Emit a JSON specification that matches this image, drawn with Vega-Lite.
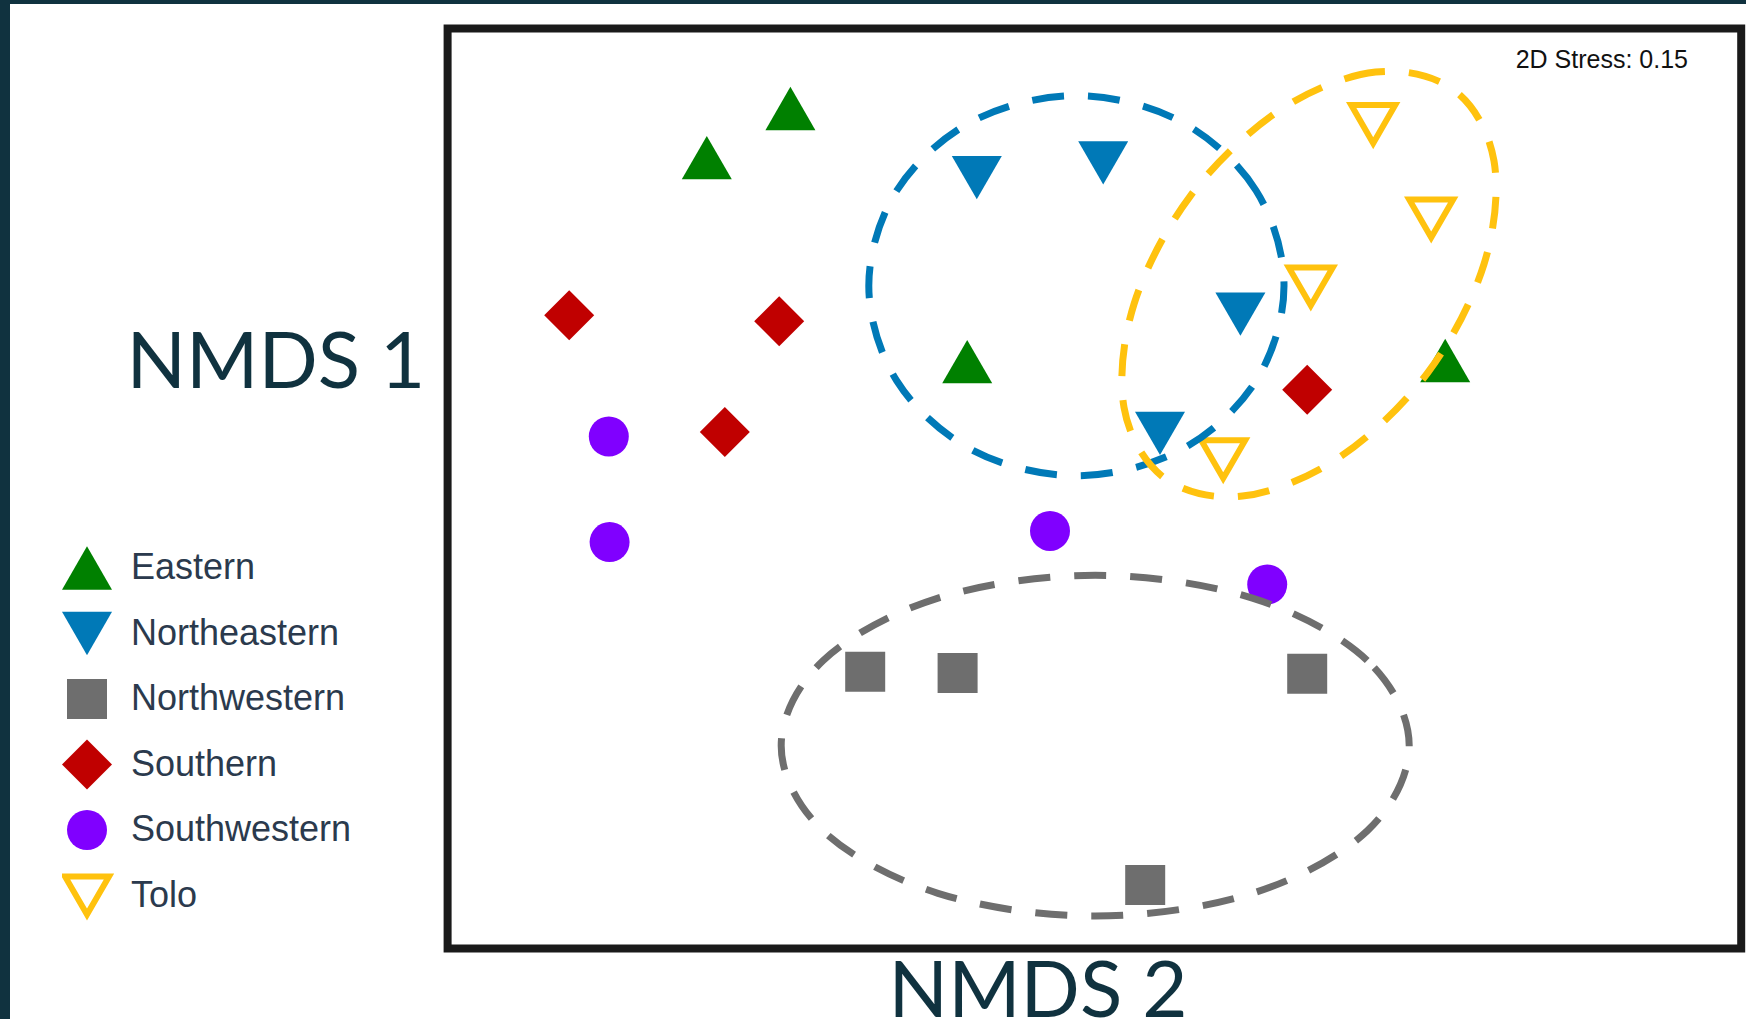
{
  "$schema": "https://vega.github.io/schema/vega-lite/v6.json",
  "width": 1736,
  "height": 1015,
  "autosize": {"type": "none"},
  "padding": {"left": 10, "top": 4, "right": 0, "bottom": 0},
  "background": "#10323f",
  "view": {"fill": "white", "stroke": null},
  "datasets": {
    "sites": [
      {"region": "Eastern", "nmds2": -0.760, "nmds1": 0.950},
      {"region": "Eastern", "nmds2": -0.969, "nmds1": 0.827},
      {"region": "Eastern", "nmds2": -0.318, "nmds1": 0.317},
      {"region": "Eastern", "nmds2": 0.877, "nmds1": 0.320},
      {"region": "Northeastern", "nmds2": -0.294, "nmds1": 0.777},
      {"region": "Northeastern", "nmds2": 0.022, "nmds1": 0.814},
      {"region": "Northeastern", "nmds2": 0.365, "nmds1": 0.436},
      {"region": "Northeastern", "nmds2": 0.164, "nmds1": 0.138},
      {"region": "Northwestern", "nmds2": -0.573, "nmds1": -0.458},
      {"region": "Northwestern", "nmds2": -0.342, "nmds1": -0.461},
      {"region": "Northwestern", "nmds2": 0.532, "nmds1": -0.463},
      {"region": "Northwestern", "nmds2": 0.127, "nmds1": -0.991},
      {"region": "Southern", "nmds2": -1.313, "nmds1": 0.433},
      {"region": "Southern", "nmds2": -0.788, "nmds1": 0.418},
      {"region": "Southern", "nmds2": -0.924, "nmds1": 0.141},
      {"region": "Southern", "nmds2": 0.532, "nmds1": 0.247},
      {"region": "Southwestern", "nmds2": -1.214, "nmds1": 0.130},
      {"region": "Southwestern", "nmds2": -1.212, "nmds1": -0.134},
      {"region": "Southwestern", "nmds2": -0.111, "nmds1": -0.106},
      {"region": "Southwestern", "nmds2": 0.432, "nmds1": -0.240},
      {"region": "Tolo", "nmds2": 0.697, "nmds1": 0.911},
      {"region": "Tolo", "nmds2": 0.842, "nmds1": 0.675},
      {"region": "Tolo", "nmds2": 0.541, "nmds1": 0.505},
      {"region": "Tolo", "nmds2": 0.322, "nmds1": 0.073}
    ],
    "ellipses": [
      {"region": "Northeastern", "i": 0, "nmds2": 0.474, "nmds1": 0.507},
      {"region": "Northeastern", "i": 1, "nmds2": 0.404, "nmds1": 0.745},
      {"region": "Northeastern", "i": 2, "nmds2": 0.215, "nmds1": 0.918},
      {"region": "Northeastern", "i": 3, "nmds2": -0.045, "nmds1": 0.982},
      {"region": "Northeastern", "i": 4, "nmds2": -0.305, "nmds1": 0.918},
      {"region": "Northeastern", "i": 5, "nmds2": -0.494, "nmds1": 0.745},
      {"region": "Northeastern", "i": 6, "nmds2": -0.564, "nmds1": 0.507},
      {"region": "Northeastern", "i": 7, "nmds2": -0.494, "nmds1": 0.269},
      {"region": "Northeastern", "i": 8, "nmds2": -0.305, "nmds1": 0.096},
      {"region": "Northeastern", "i": 9, "nmds2": -0.045, "nmds1": 0.032},
      {"region": "Northeastern", "i": 10, "nmds2": 0.215, "nmds1": 0.096},
      {"region": "Northeastern", "i": 11, "nmds2": 0.404, "nmds1": 0.269},
      {"region": "Northwestern", "i": 0, "nmds2": 0.787, "nmds1": -0.643},
      {"region": "Northwestern", "i": 1, "nmds2": 0.682, "nmds1": -0.430},
      {"region": "Northwestern", "i": 2, "nmds2": 0.395, "nmds1": -0.274},
      {"region": "Northwestern", "i": 3, "nmds2": 0.002, "nmds1": -0.217},
      {"region": "Northwestern", "i": 4, "nmds2": -0.391, "nmds1": -0.274},
      {"region": "Northwestern", "i": 5, "nmds2": -0.678, "nmds1": -0.430},
      {"region": "Northwestern", "i": 6, "nmds2": -0.783, "nmds1": -0.643},
      {"region": "Northwestern", "i": 7, "nmds2": -0.678, "nmds1": -0.856},
      {"region": "Northwestern", "i": 8, "nmds2": -0.391, "nmds1": -1.012},
      {"region": "Northwestern", "i": 9, "nmds2": 0.002, "nmds1": -1.069},
      {"region": "Northwestern", "i": 10, "nmds2": 0.395, "nmds1": -1.012},
      {"region": "Northwestern", "i": 11, "nmds2": 0.682, "nmds1": -0.856},
      {"region": "Tolo", "i": 0, "nmds2": 0.900, "nmds1": 0.995},
      {"region": "Tolo", "i": 1, "nmds2": 0.703, "nmds1": 1.041},
      {"region": "Tolo", "i": 2, "nmds2": 0.462, "nmds1": 0.945},
      {"region": "Tolo", "i": 3, "nmds2": 0.241, "nmds1": 0.733},
      {"region": "Tolo", "i": 4, "nmds2": 0.099, "nmds1": 0.461},
      {"region": "Tolo", "i": 5, "nmds2": 0.074, "nmds1": 0.203},
      {"region": "Tolo", "i": 6, "nmds2": 0.174, "nmds1": 0.027},
      {"region": "Tolo", "i": 7, "nmds2": 0.370, "nmds1": -0.019},
      {"region": "Tolo", "i": 8, "nmds2": 0.611, "nmds1": 0.077},
      {"region": "Tolo", "i": 9, "nmds2": 0.833, "nmds1": 0.289},
      {"region": "Tolo", "i": 10, "nmds2": 0.974, "nmds1": 0.561},
      {"region": "Tolo", "i": 11, "nmds2": 0.999, "nmds1": 0.819}
    ],
    "labels": [
      {"label": "2D Stress: 0.15"},
      {"label": "NMDS 1"},
      {"label": "NMDS 2"}
    ]
  },
  "layer": [
    {
      "data": {"values": [{}]},
      "mark": {"type": "rect", "fill": "transparent", "stroke": "#1a1a1a", "strokeWidth": 8},
      "encoding": {
        "x": {"datum": -1.617, "type": "quantitative", "scale": {"domain": [-2.711, 1.629], "nice": false, "zero": false}, "axis": null},
        "x2": {"datum": 1.617},
        "y": {"datum": 1.15, "type": "quantitative", "scale": {"domain": [-1.32625, 1.21125], "nice": false, "zero": false}, "axis": null},
        "y2": {"datum": -1.15}
      }
    },
    {
      "data": {"name": "sites"},
      "mark": {"type": "point", "opacity": 1},
      "encoding": {
        "x": {"field": "nmds2", "type": "quantitative", "scale": {"domain": [-2.711, 1.629], "nice": false, "zero": false}, "axis": null},
        "y": {"field": "nmds1", "type": "quantitative", "scale": {"domain": [-1.32625, 1.21125], "nice": false, "zero": false}, "axis": null},
        "shape": {"field": "region", "type": "nominal",
          "scale": {"domain": ["Eastern", "Northeastern", "Northwestern", "Southern", "Southwestern", "Tolo"], "range": ["triangle-up", "triangle-down", "square", "diamond", "circle", "triangle-down"]},
          "legend": {"orient": "none", "legendX": 52, "legendY": 538, "title": null, "padding": 0, "labelFont": "Liberation Sans", "labelFontSize": 36, "labelColor": "#2b3a4d", "labelLimit": 400, "labelOffset": 19, "clipHeight": 52, "rowPadding": 13.5}},
        "fill": {"field": "region", "type": "nominal",
          "scale": {"domain": ["Eastern", "Northeastern", "Northwestern", "Southern", "Southwestern", "Tolo"], "range": ["#008000", "#0079b7", "#6e6e6e", "#c00000", "#8000ff", "transparent"]},
          "legend": {"orient": "none", "legendX": 52, "legendY": 538, "title": null, "padding": 0, "labelFont": "Liberation Sans", "labelFontSize": 36, "labelColor": "#2b3a4d", "labelLimit": 400, "labelOffset": 19, "clipHeight": 52, "rowPadding": 13.5}},
        "stroke": {"field": "region", "type": "nominal",
          "scale": {"domain": ["Eastern", "Northeastern", "Northwestern", "Southern", "Southwestern", "Tolo"], "range": ["#008000", "#0079b7", "#6e6e6e", "#c00000", "#8000ff", "#ffc20e"]},
          "legend": {"orient": "none", "legendX": 52, "legendY": 538, "title": null, "padding": 0, "labelFont": "Liberation Sans", "labelFontSize": 36, "labelColor": "#2b3a4d", "labelLimit": 400, "labelOffset": 19, "clipHeight": 52, "rowPadding": 13.5}},
        "size": {"field": "region", "type": "nominal",
          "scale": {"type": "ordinal", "domain": ["Eastern", "Northeastern", "Northwestern", "Southern", "Southwestern", "Tolo"], "range": [2500, 2500, 1600, 2500, 1600, 1936]},
          "legend": {"orient": "none", "legendX": 52, "legendY": 538, "title": null, "padding": 0, "labelFont": "Liberation Sans", "labelFontSize": 36, "labelColor": "#2b3a4d", "labelLimit": 400, "labelOffset": 19, "clipHeight": 52, "rowPadding": 13.5}},
        "strokeWidth": {"field": "region", "type": "nominal",
          "scale": {"type": "ordinal", "domain": ["Eastern", "Northeastern", "Northwestern", "Southern", "Southwestern", "Tolo"], "range": [0, 0, 0, 0, 0, 6]},
          "legend": {"orient": "none", "legendX": 52, "legendY": 538, "title": null, "padding": 0, "labelFont": "Liberation Sans", "labelFontSize": 36, "labelColor": "#2b3a4d", "labelLimit": 400, "labelOffset": 19, "clipHeight": 52, "rowPadding": 13.5}}
      }
    },
    {
      "data": {"name": "ellipses"},
      "transform": [{"filter": "datum.region === 'Northwestern'"}],
      "mark": {"type": "line", "stroke": "#6e6e6e", "strokeWidth": 7, "strokeDash": [32, 24], "strokeCap": "butt", "interpolate": "cardinal-closed"},
      "encoding": {
        "x": {"field": "nmds2", "type": "quantitative", "scale": {"domain": [-2.711, 1.629], "nice": false, "zero": false}, "axis": null},
        "y": {"field": "nmds1", "type": "quantitative", "scale": {"domain": [-1.32625, 1.21125], "nice": false, "zero": false}, "axis": null},
        "order": {"field": "i", "type": "quantitative"}
      }
    },
    {
      "data": {"name": "ellipses"},
      "transform": [{"filter": "datum.region === 'Northeastern'"}],
      "mark": {"type": "line", "stroke": "#0079b7", "strokeWidth": 7, "strokeDash": [32, 24], "strokeCap": "butt", "interpolate": "cardinal-closed"},
      "encoding": {
        "x": {"field": "nmds2", "type": "quantitative", "scale": {"domain": [-2.711, 1.629], "nice": false, "zero": false}, "axis": null},
        "y": {"field": "nmds1", "type": "quantitative", "scale": {"domain": [-1.32625, 1.21125], "nice": false, "zero": false}, "axis": null},
        "order": {"field": "i", "type": "quantitative"}
      }
    },
    {
      "data": {"name": "ellipses"},
      "transform": [{"filter": "datum.region === 'Tolo'"}],
      "mark": {"type": "line", "stroke": "#ffc20e", "strokeWidth": 7, "strokeDash": [32, 24], "strokeCap": "butt", "interpolate": "cardinal-closed"},
      "encoding": {
        "x": {"field": "nmds2", "type": "quantitative", "scale": {"domain": [-2.711, 1.629], "nice": false, "zero": false}, "axis": null},
        "y": {"field": "nmds1", "type": "quantitative", "scale": {"domain": [-1.32625, 1.21125], "nice": false, "zero": false}, "axis": null},
        "order": {"field": "i", "type": "quantitative"}
      }
    },
    {
      "data": {"name": "labels"},
      "transform": [{"filter": "datum.label === '2D Stress: 0.15'"}],
      "mark": {"type": "text", "font": "Liberation Sans", "fontSize": 25, "align": "right", "baseline": "alphabetic", "color": "#111111"},
      "encoding": {
        "x": {"datum": 1.484, "type": "quantitative"},
        "y": {"datum": 1.051, "type": "quantitative"},
        "text": {"field": "label"}
      }
    },
    {
      "data": {"name": "labels"},
      "transform": [{"filter": "datum.label === 'NMDS 1'"}],
      "mark": {"type": "text", "font": "Lato", "fontSize": 78, "align": "left", "baseline": "alphabetic", "color": "#10323f"},
      "encoding": {
        "x": {"datum": -2.42, "type": "quantitative"},
        "y": {"datum": 0.2505, "type": "quantitative"},
        "text": {"field": "label"}
      }
    },
    {
      "data": {"name": "labels"},
      "transform": [{"filter": "datum.label === 'NMDS 2'"}],
      "mark": {"type": "text", "font": "Lato", "fontSize": 78, "align": "center", "baseline": "alphabetic", "color": "#10323f"},
      "encoding": {
        "x": {"datum": -0.141, "type": "quantitative"},
        "y": {"datum": -1.3205, "type": "quantitative"},
        "text": {"field": "label"}
      }
    }
  ]
}
